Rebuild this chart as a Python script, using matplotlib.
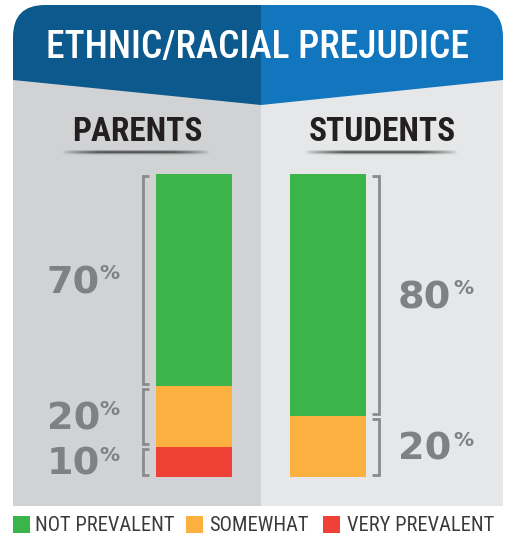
import numpy as np
import matplotlib
matplotlib.use("Agg")
import matplotlib.pyplot as plt
from matplotlib import font_manager
from matplotlib.patches import FancyBboxPatch, Polygon, Rectangle
from matplotlib.transforms import blended_transform_factory

# ---- data ----
groups = ["PARENTS", "STUDENTS"]
categories = ["NOT PREVALENT", "SOMEWHAT", "VERY PREVALENT"]
not_prevalent = [70, 80]
somewhat = [20, 20]
very_prevalent = [10, 0]
title = "ETHNIC/RACIAL PREJUDICE"

# ---- styling ----
GREEN, ORANGE, RED = "#3bb44a", "#fbb040", "#ef4136"
BLUE_DARK, BLUE_LIGHT = "#0c5a8d", "#1276bf"
GRAY_L, GRAY_R = "#d1d2d4", "#e6e7e8"
LABEL_GRAY = "#808184"
BRACKET_GRAY = "#8a8b8e"

names = {f.name for f in font_manager.fontManager.ttflist}
NARROW = next((n for n in ["Liberation Sans Narrow", "Roboto Condensed",
                           "Open Sans Condensed", "DejaVu Sans"] if n in names),
              "DejaVu Sans")

W, H = 510, 537
PT = 0.72  # points per pixel at 100 dpi
fig = plt.figure(figsize=(W / 100, H / 100), dpi=100)
fig.patch.set_facecolor("white")

# background layer in pixel coordinates
bg = fig.add_axes([0, 0, 1, 1])
bg.set_xlim(0, W)
bg.set_ylim(H, 0)
bg.axis("off")

# panels
bg.add_patch(Rectangle((13, 80), 248, 426, color=GRAY_L, lw=0))
bg.add_patch(Rectangle((261, 80), 242, 426, color=GRAY_R, lw=0))

# header banner with chevron bottom
left_clip = Polygon([(13, 0), (261, 0), (261, 105), (13, 80)],
                    closed=True, transform=bg.transData)
right_clip = Polygon([(261, 0), (503, 0), (503, 80), (261, 105)],
                     closed=True, transform=bg.transData)
for color, clip in [(BLUE_DARK, left_clip), (BLUE_LIGHT, right_clip)]:
    banner = FancyBboxPatch((13, 5), 490, 160,
                            boxstyle="round,pad=0,rounding_size=32",
                            fc=color, ec="none", lw=0)
    bg.add_patch(banner)
    banner.set_clip_path(clip)

bg.text(258, 48, title, color="white", fontsize=27, family=NARROW,
        fontweight="medium", ha="center", va="center")

# group headings with soft underline shadow
heading_pos = [(137, 62, 210), (382, 305, 458)]
for name, (cx, x0, x1) in zip(groups, heading_pos):
    bg.text(cx, 132, name, color="#231f20", fontsize=24, family=NARROW,
            fontweight="bold", ha="center", va="center")
    nx, ny = 200, 12
    xs = np.linspace(0, 1, nx)
    ys = np.linspace(0, 1, ny)
    fade_x = np.clip(np.minimum(xs, 1 - xs) / 0.25, 0, 1) ** 0.7
    fade_y = np.exp(-((ys - 0.25) / 0.22) ** 2)
    alpha = np.outer(fade_y, fade_x) * 0.85
    img = np.zeros((ny, nx, 4))
    img[..., :3] = 0.2
    img[..., 3] = alpha
    bg.imshow(img, extent=(x0, x1, 158, 150), aspect="auto",
              interpolation="bilinear", zorder=2)

# legend
legend_items = [(13, 35, GREEN), (186, 209, ORANGE), (323, 347, RED)]
for label, (sx, tx, col) in zip(categories, legend_items):
    bg.add_patch(Rectangle((sx, 516), 17, 17, color=col, lw=0))
    bg.text(tx, 525.5, label, color="#3a3a3c", fontsize=14.8, family=NARROW,
            ha="left", va="center")

bg.set_xlim(0, W)
bg.set_ylim(H, 0)

# ---- stacked bars ----
ax = fig.add_axes([13 / W, 60 / H, 490 / W, 303 / H])
ax.patch.set_alpha(0)
ax.axis("off")
x = np.arange(len(groups))
bw = 0.567
ax.bar(x, very_prevalent, bw, color=RED, lw=0)
ax.bar(x, somewhat, bw, bottom=very_prevalent, color=ORANGE, lw=0)
bottoms = np.add(very_prevalent, somewhat)
ax.bar(x, not_prevalent, bw, bottom=bottoms, color=GREEN, lw=0)
ax.set_xlim(-1.3507, 2.306)
ax.set_ylim(0, 100)

blend = blended_transform_factory(bg.transData, ax.transData)


def bracket(xspine, xtick, lo, hi):
    g = 0.8
    ax.plot([xtick, xspine, xspine, xtick], [lo + g, lo + g, hi - g, hi - g],
            color=BRACKET_GRAY, lw=2.0, transform=blend,
            solid_joinstyle="miter", solid_capstyle="butt", clip_on=False)


def pct_label(xref, ymid, value, side):
    # xref: left edge of the label (students) or right edge (parents)
    if side == "left":
        num_x, num_ha, pct_x, pct_ha = xref - 20, "right", xref, "right"
    else:
        num_x, num_ha, pct_x, pct_ha = xref, "left", xref + 55, "left"
    ax.annotate(f"{value}", xy=(num_x, ymid), xycoords=blend,
                xytext=(0, -13 * PT), textcoords="offset points",
                ha=num_ha, va="baseline", fontsize=27.5, fontweight="bold",
                color=LABEL_GRAY, annotation_clip=False)
    ax.annotate("%", xy=(pct_x, ymid), xycoords=blend,
                xytext=(0, 1 * PT), textcoords="offset points",
                ha=pct_ha, va="baseline", fontsize=14.5, fontweight="bold",
                color=LABEL_GRAY, annotation_clip=False)


segments = [
    (very_prevalent, np.zeros(2)),
    (somewhat, np.array(very_prevalent, dtype=float)),
    (not_prevalent, bottoms.astype(float)),
]
for i in range(len(groups)):
    for vals, base in segments:
        v = vals[i]
        if v <= 0:
            continue
        lo, hi = base[i], base[i] + v
        mid = (lo + hi) / 2
        if i == 0:
            bracket(143, 149, lo, hi)
            pct_label(120, mid, v, "left")
        else:
            bracket(379, 372, lo, hi)
            pct_label(398, mid, v, "right")

fig.savefig("out.png", dpi=100, facecolor=fig.get_facecolor())
